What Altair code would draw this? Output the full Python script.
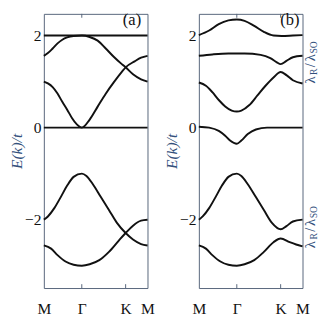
import altair as alt
import pandas as pd

# ---- axis ticks / labels ----
K_TICKS = [0.0, 0.366, 0.789, 1.0]
K_NAMES = ["M", "Γ", "K", "M"]
E_TICKS = [-2, 0, 2]
E_DOMAIN = [-3.486, 2.472]

# ---- panel (a) bands ----
a_flat2_k = [0.0, 1.0]
a_flat2_E = [2.0, 2.0]
a_flat0_k = [0.0, 1.0]
a_flat0_E = [0.0, 0.0]
a_b1_k = [0.0, 0.039, 0.085, 0.132, 0.178, 0.225, 0.287, 0.367, 0.442, 0.519, 0.597, 0.674, 0.752, 0.789, 0.860, 0.938, 1.0]
a_b1_E = [1.56, 1.62, 1.72, 1.83, 1.91, 1.96, 1.99, 2.0, 1.97, 1.89, 1.72, 1.54, 1.38, 1.31, 1.16, 1.05, 1.0]
a_b2_k = [0.0, 0.039, 0.085, 0.132, 0.178, 0.225, 0.271, 0.318, 0.367, 0.442, 0.519, 0.597, 0.674, 0.752, 0.789, 0.876, 0.938, 1.0]
a_b2_E = [1.0, 0.96, 0.88, 0.74, 0.56, 0.39, 0.21, 0.07, 0.0, 0.175, 0.456, 0.737, 0.982, 1.21, 1.31, 1.44, 1.52, 1.56]
a_b3_k = [0.0, 0.039, 0.101, 0.163, 0.225, 0.287, 0.367, 0.411, 0.473, 0.550, 0.628, 0.705, 0.789, 0.860, 0.938, 1.0]
a_b3_E = [-2.0, -1.93, -1.75, -1.51, -1.26, -1.07, -1.0, -1.05, -1.23, -1.51, -1.79, -2.07, -2.29, -2.43, -2.53, -2.56]
a_b4_k = [0.0, 0.070, 0.132, 0.209, 0.287, 0.367, 0.442, 0.535, 0.628, 0.721, 0.789, 0.860, 0.938, 1.0]
a_b4_E = [-2.56, -2.63, -2.77, -2.91, -2.98, -3.0, -2.97, -2.88, -2.70, -2.46, -2.29, -2.13, -2.02, -2.0]

# ---- panel (b) bands ----
b_b1_k = [0.0, 0.099, 0.192, 0.285, 0.366, 0.441, 0.534, 0.627, 0.720, 0.798, 0.907, 1.0]
b_b1_E = [2.01, 2.11, 2.25, 2.33, 2.35, 2.32, 2.21, 2.08, 2.0, 1.99, 2.0, 2.01]
b_b2_k = [0.0, 0.130, 0.285, 0.441, 0.596, 0.689, 0.752, 0.789, 0.845, 0.907, 1.0]
b_b2_E = [1.56, 1.59, 1.61, 1.61, 1.58, 1.51, 1.42, 1.38, 1.45, 1.53, 1.56]
b_b3_k = [0.0, 0.068, 0.130, 0.192, 0.254, 0.317, 0.366, 0.410, 0.487, 0.565, 0.643, 0.720, 0.789, 0.845, 0.907, 1.0]
b_b3_E = [0.98, 0.91, 0.77, 0.60, 0.46, 0.37, 0.35, 0.37, 0.49, 0.70, 0.91, 1.09, 1.21, 1.14, 1.03, 0.96]
b_b4_k = [0.0, 0.099, 0.192, 0.254, 0.301, 0.366, 0.410, 0.472, 0.550, 0.658, 1.0]
b_b4_E = [0.02, 0.0, -0.07, -0.175, -0.28, -0.35, -0.28, -0.14, -0.04, 0.0, 0.0]
b_b5_k = [0.0, 0.037, 0.099, 0.161, 0.223, 0.285, 0.366, 0.410, 0.472, 0.550, 0.627, 0.705, 0.789, 0.845, 0.907, 1.0]
b_b5_E = [-2.0, -1.93, -1.75, -1.51, -1.26, -1.07, -1.0, -1.05, -1.23, -1.51, -1.79, -2.07, -2.21, -2.14, -2.04, -2.0]
b_b6_k = [0.0, 0.068, 0.130, 0.208, 0.285, 0.366, 0.441, 0.534, 0.627, 0.720, 0.789, 0.876, 0.938, 1.0]
b_b6_E = [-2.56, -2.63, -2.77, -2.91, -2.98, -3.0, -2.97, -2.88, -2.70, -2.49, -2.41, -2.49, -2.54, -2.58]

PANEL_TAGS = ["(a)", "(b)"]
Y_TITLE = "E(k)/t"
SIDE_PIECES = ["λ", "R", "/", "λ", "SO"]

SERIF = "Liberation Serif"
FRAME = "#56647a"
TITLE_C = "#33507c"
W, H = 107, 283


def to_df(bands):
    rows = []
    for name, ks, es in bands:
        for k, e in zip(ks, es):
            rows.append({"band": name, "k": k, "E": e})
    return pd.DataFrame(rows)


df_a = to_df([("f2", a_flat2_k, a_flat2_E), ("f0", a_flat0_k, a_flat0_E),
              ("b1", a_b1_k, a_b1_E), ("b2", a_b2_k, a_b2_E),
              ("b3", a_b3_k, a_b3_E), ("b4", a_b4_k, a_b4_E)])
df_b = to_df([("b1", b_b1_k, b_b1_E), ("b2", b_b2_k, b_b2_E),
              ("b3", b_b3_k, b_b3_E), ("b4", b_b4_k, b_b4_E),
              ("b5", b_b5_k, b_b5_E), ("b6", b_b6_k, b_b6_E)])

label_expr = " : ".join(
    f"abs(datum.value - {t}) < 0.01 ? '{n}'" for t, n in zip(K_TICKS, K_NAMES)
) + " : ''"

tick_df = pd.DataFrame({"k": K_TICKS[1:3]})
one = pd.DataFrame({"a": [0]})

X_ENC = alt.X("k:Q", scale=alt.Scale(domain=[0, 1], nice=False, zero=False),
              axis=alt.Axis(values=K_TICKS, labelExpr=label_expr, ticks=False, domain=False,
                            grid=False, labelFont=SERIF, labelFontSize=16, labelColor="#111",
                            labelPadding=13, labelFlush=False, labelOverlap=False, title=None))
Y_ENC = alt.Y("E:Q", scale=alt.Scale(domain=E_DOMAIN, nice=False, zero=False),
              axis=alt.Axis(values=E_TICKS, ticks=False, domain=False, grid=False,
                            labelFont=SERIF, labelFontSize=16, labelColor="#111", labelPadding=3,
                            title=Y_TITLE, titleFont=SERIF, titleFontStyle="italic",
                            titleFontWeight="normal", titleFontSize=16, titleColor=TITLE_C,
                            titlePadding=0))


def panel(df, tag, tag_x, extra=()):
    lines = alt.Chart(df).mark_line(interpolate="monotone", color="#111",
                                    strokeWidth=2).encode(x=X_ENC, y=Y_ENC, detail="band:N")
    tb = alt.Chart(tick_df).mark_rule(color=FRAME, strokeWidth=1).encode(
        x=X_ENC, y=alt.value(H), y2=alt.value(H - 4))
    tt = alt.Chart(tick_df).mark_rule(color=FRAME, strokeWidth=1).encode(
        x=X_ENC, y=alt.value(0), y2=alt.value(4))
    tg = alt.Chart(one).mark_text(text=tag, font=SERIF, fontSize=17, color="#111",
                                  align="center", baseline="alphabetic").encode(
        x=alt.value(tag_x), y=alt.value(12))
    return alt.layer(lines, tb, tt, tg, *extra).properties(width=W, height=H)


def side_label(y0):
    # rotated "λR/λSO" reading bottom to top, subscripts smaller and shifted
    specs = [(SIDE_PIECES[0], 15, 119.5, y0),
             (SIDE_PIECES[1], 10, 121.5, y0 - 9),
             (SIDE_PIECES[2], 15, 119.5, y0 - 17),
             (SIDE_PIECES[3], 15, 119.5, y0 - 23),
             (SIDE_PIECES[4], 10, 121.5, y0 - 31)]
    out = []
    for txt, fs, px, py in specs:
        out.append(alt.Chart(one).mark_text(text=txt, font=SERIF, fontSize=fs, color=TITLE_C,
                                            angle=270, align="left", baseline="alphabetic").encode(
            x=alt.value(px), y=alt.value(py)))
    return out


pa = panel(df_a, PANEL_TAGS[0], 91)
pb = panel(df_b, PANEL_TAGS[1], 94, extra=side_label(72) + side_label(242))

chart = alt.hconcat(pa, pb, spacing=8).configure_view(
    stroke=FRAME, strokeWidth=1).properties(
    padding={"left": 0, "top": -2, "right": 0, "bottom": 0})

chart.save("out.html", embed_options={"renderer": "svg", "actions": False})
